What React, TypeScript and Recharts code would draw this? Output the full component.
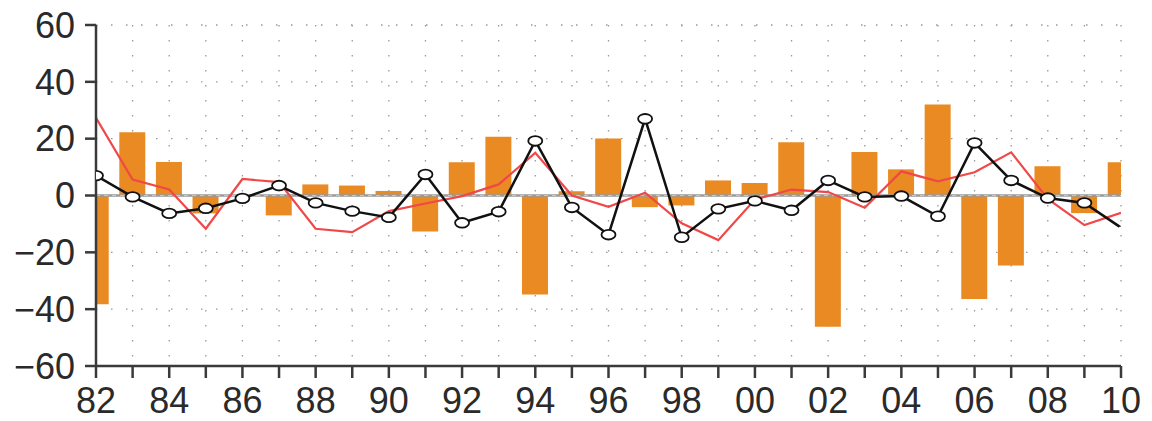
import React from 'react';
import { ComposedChart, Bar, Line, XAxis, YAxis, CartesianGrid, ReferenceLine } from 'recharts';

const years = [1982,1983,1984,1985,1986,1987,1988,1989,1990,1991,1992,1993,1994,1995,1996,1997,1998,1999,2000,2001,2002,2003,2004,2005,2006,2007,2008,2009,2010];
const barValues = [-38.3,22.3,11.8,-6.3,0,-7,3.9,3.5,1.6,-12.7,11.7,20.7,-34.8,1.5,20.1,-4.1,-3.5,5.3,4.4,18.7,-46.2,15.3,9.2,32,-36.4,-24.6,10.3,-6.2,11.7];
const blackValues = [7,-0.5,-6.3,-4.5,-1,3.5,-2.6,-5.5,-7.7,7.4,-9.6,-5.7,19.2,-4.2,-13.8,27,-14.7,-4.7,-1.9,-5.2,5.3,-0.5,-0.2,-7.3,18.5,5.3,-0.9,-2.6,-11.3];
const redValues = [27.3,5.6,2.1,-11.7,5.8,4.7,-11.7,-12.9,-5.5,-2.8,-0.2,3.9,15,0,-4,1,-9.8,-15.7,-1.4,2.1,1.2,-4.3,8.5,5,8.2,15.2,-1.2,-10.4,-6.1];
const yTicks = [-60,-40,-20,0,20,40,60];

const data = years.map((year, i) => ({
  year,
  bar: barValues[i],
  black: blackValues[i],
  red: redValues[i],
}));

const axisColor = '#3a3a3a';
const font = { fontFamily: '"Liberation Sans", Arial, sans-serif', fontSize: 36, fill: '#2a2a2a' };

const fmtX = (v: number) => (v % 2 === 0 ? String(v % 100).padStart(2, '0') : '');
const fmtY = (v: number) => (v < 0 ? '\u2212' + Math.abs(v) : String(v));

const renderDot = (props: any) => {
  const { cx, cy, index } = props;
  if (index === years.length - 1) {
    return <ellipse key={index} cx={cx} cy={cy + 3} rx={3} ry={4} fill="#fff" stroke="none" />;
  }
  return <ellipse key={index} cx={cx} cy={cy} rx={7} ry={4.8} fill="#fff" stroke="#111" strokeWidth={1.8} />;
};

export default function App() {
  return (
    <div style={{ position: 'absolute', left: 0, top: 0, width: 1152, height: 421, background: '#fff' }}>
      <ComposedChart width={1152} height={421} data={data} margin={{ top: 25, right: 31, bottom: 0, left: 0 }}>
        <CartesianGrid stroke="#999" strokeWidth={1.3} strokeDasharray="1.5 13.5" />
        <XAxis
          dataKey="year"
          type="number"
          domain={[1982, 2010]}
          ticks={years}
          interval={0}
          allowDataOverflow
          tickFormatter={fmtX}
          height={55}
          tickSize={12}
          tickMargin={9}
          tick={font}
          axisLine={{ stroke: axisColor, strokeWidth: 2.5 }}
          tickLine={{ stroke: axisColor, strokeWidth: 2.5 }}
        />
        <XAxis
          xAxisId="top"
          dataKey="year"
          type="number"
          orientation="top"
          domain={[1982, 2010]}
          height={0}
          tick={false}
          tickLine={false}
          axisLine={{ stroke: axisColor, strokeWidth: 2.5 }}
        />
        <YAxis
          type="number"
          domain={[-60, 60]}
          ticks={yTicks}
          interval={0}
          allowDataOverflow
          tickFormatter={fmtY}
          width={96}
          tickSize={11}
          tickMargin={10}
          tick={font}
          axisLine={{ stroke: axisColor, strokeWidth: 2.5 }}
          tickLine={{ stroke: axisColor, strokeWidth: 2.5 }}
        />
        <YAxis
          yAxisId="r"
          orientation="right"
          domain={[-60, 60]}
          width={0}
          tick={false}
          tickLine={false}
          axisLine={{ stroke: axisColor, strokeWidth: 2.5 }}
        />
        <Bar dataKey="bar" fill="#EA8A22" barSize={26} isAnimationActive={false} />
        <ReferenceLine y={0} stroke="#9a9a9a" strokeWidth={2.5} />
        <ReferenceLine y={0} stroke="#c8c8c8" strokeWidth={1} strokeDasharray="4 4" />
        <Line dataKey="red" type="linear" stroke="#f04848" strokeWidth={2.2} dot={false} isAnimationActive={false} />
        <Line dataKey="black" type="linear" stroke="#111" strokeWidth={2.5} dot={renderDot} activeDot={false} isAnimationActive={false} />
      </ComposedChart>
    </div>
  );
}
